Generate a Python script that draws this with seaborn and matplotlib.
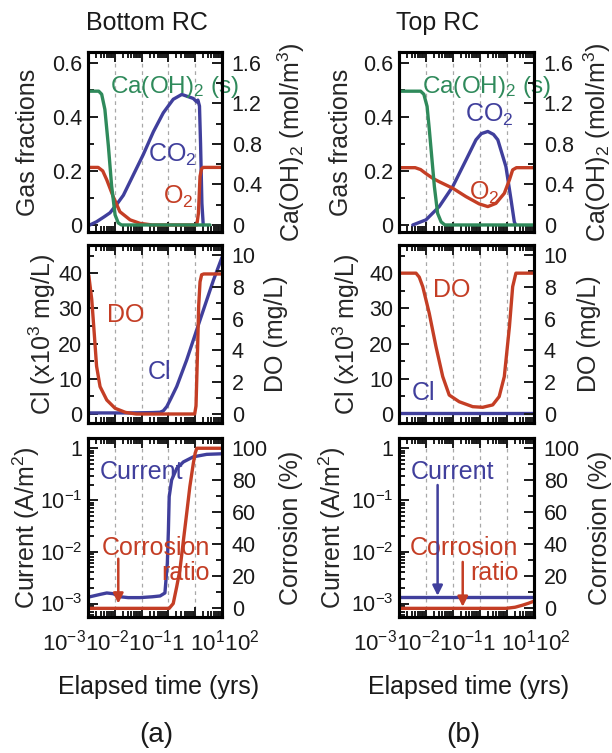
import numpy as np
import matplotlib
matplotlib.use("Agg")
import matplotlib.pyplot as plt
import matplotlib.ticker as mticker
import seaborn as sns

# ---- values; times are log10(years) ----
# (a) Bottom RC
a_caoh_t = [-3.0, -2.6, -2.49, -2.37, -2.24, -2.12, -1.99, -1.87, -1.75, 1.55]
a_caoh = [1.32, 1.32, 1.29, 1.14, 0.78, 0.39, 0.10, 0.02, 0.0, 0.0]
a_co2_t = [-2.93, -2.68, -2.4, -2.18, -1.9, -1.68, -1.31, -0.94, -0.56, -0.19,
           0.18, 0.50, 0.93, 1.06, 1.10, 1.16, 1.20, 1.25, 1.30]
a_co2 = [0.0, 0.012, 0.03, 0.045, 0.08, 0.11, 0.185, 0.26, 0.345, 0.415,
         0.465, 0.483, 0.468, 0.455, 0.462, 0.44, 0.30, 0.08, 0.0]
a_o2_t = [-3.0, -2.62, -2.45, -2.30, -2.06, -1.81, -1.43, -1.06, -0.6,
          1.06, 1.12, 1.18, 1.24, 1.30, 2.0]
a_o2 = [0.213, 0.213, 0.2, 0.167, 0.105, 0.049, 0.019, 0.006, 0.0,
        0.0, 0.043, 0.18, 0.208, 0.213, 0.213]

a_do_t = [-2.97, -2.86, -2.76, -2.68, -2.55, -2.30, -1.99, -1.6, -1.2,
          0.98, 1.03, 1.08, 1.13, 1.18, 1.24, 1.32, 2.0]
a_do = [8.7, 7.2, 4.9, 3.0, 1.72, 0.88, 0.36, 0.1, 0.0,
        0.0, 0.5, 3.5, 6.8, 8.3, 8.75, 8.8, 8.8]
a_cl_t = [-3.0, -1.5, -0.6, -0.31, -0.19, -0.06, 0.1, 0.31, 0.68, 1.18, 1.68, 2.0]
a_cl = [0.3, 0.3, 0.4, 0.5, 0.9, 2.1, 4.5, 7.8, 15.3, 26.7, 38.0, 44.5]

a_cur_t = [-2.93, -2.55, -2.3, -2.06, -1.8, -1.5, -1.06, -0.6, -0.31, -0.13,
           -0.04, 0.0, 0.03, 0.12, 0.31, 0.56, 0.93, 1.43, 2.0]
a_cur = [1.35e-3, 1.5e-3, 1.6e-3, 1.55e-3, 1.35e-3, 1.3e-3, 1.3e-3, 1.35e-3, 1.4e-3, 1.6e-3,
         6e-3, 0.026, 0.117, 0.245, 0.41, 0.55, 0.69, 0.77, 0.79]
a_corr_t = [-3.0, 0.03, 0.18, 0.31, 0.43, 0.55, 0.68, 0.80, 0.93, 1.0, 1.06, 2.0]
a_corr = [0, 0, 3, 13.5, 24, 41, 59, 76, 90.6, 97, 100, 100]

# (b) Top RC
b_caoh_t = [-3.0, -2.2, -2.08, -1.96, -1.88, -1.81, -1.69, -1.57, -1.44, -1.3, 2.0]
b_caoh = [1.32, 1.32, 1.29, 1.17, 0.95, 0.74, 0.38, 0.115, 0.03, 0.0, 0.0]
b_co2_t = [-2.49, -2.0, -1.51, -1.01, -0.52, -0.15, 0.05, 0.29, 0.5, 0.66,
           0.96, 1.15, 1.27, 1.32]
b_co2 = [0.0, 0.019, 0.068, 0.142, 0.24, 0.315, 0.338, 0.346, 0.335, 0.315,
         0.216, 0.093, 0.012, 0.0]
b_o2_t = [-3.0, -2.4, -2.2, -2.0, -1.74, -1.51, -1.01, -0.52, -0.03, 0.29,
          0.59, 0.9, 1.09, 1.21, 1.35, 2.0]
b_o2 = [0.212, 0.212, 0.205, 0.19, 0.172, 0.16, 0.136, 0.105, 0.078, 0.068,
        0.08, 0.117, 0.167, 0.204, 0.212, 0.212]

b_do_t = [-3.0, -2.37, -2.25, -2.12, -1.88, -1.63, -1.38, -1.14, -0.77, -0.27,
          0.10, 0.47, 0.71, 0.90, 1.09, 1.21, 1.33, 2.0]
b_do = [8.85, 8.85, 8.6, 8.0, 6.33, 4.23, 2.35, 1.19, 0.77, 0.46,
        0.42, 0.57, 1.09, 2.35, 5.49, 8.0, 8.85, 8.85]
b_cl_t = [-3.0, 2.0]
b_cl = [0.2, 0.2]

b_cur_t = [-3.0, 2.0]
b_cur = [1.35e-3, 1.35e-3]
b_corr_t = [-3.0, 0.96, 1.3, 1.58, 1.8, 2.0]
b_corr = [0, 0, 0.7, 2, 3.2, 4.5]

GREEN = "#2f8a5b"
BLUE = "#403f9c"
RED = "#c43e25"

W, H = 612, 753
FS = 18
TICK_FS = 15.5

sns.set_theme(style="ticks")
plt.rcParams["font.family"] = ["Liberation Sans", "DejaVu Sans"]
plt.rcParams["mathtext.fontset"] = "custom"
plt.rcParams["mathtext.rm"] = "Liberation Sans"
plt.rcParams["mathtext.it"] = "Liberation Sans:italic"
plt.rcParams["mathtext.default"] = "regular"
plt.rcParams["text.color"] = "#1a1a1a"


def curve(ax, logt, vals, color):
    sns.lineplot(x=10 ** np.asarray(logt), y=vals, ax=ax, color=color, lw=2.4,
                 sort=False, estimator=None)


def style(ax, ax2):
    ax.set_xscale("log")
    ax.set_xlim(1e-3, 1e2)
    ax.xaxis.set_major_locator(mticker.LogLocator(base=10, numticks=20))
    ax.xaxis.set_minor_locator(mticker.LogLocator(base=10, subs=np.arange(2, 10), numticks=20))
    for d in [1e-2, 1e-1, 1, 1e1]:
        ax.axvline(d, color="#a8a8a8", lw=0.9, ls=(0, (3, 3)), zorder=0)
    ax.tick_params(axis="both", which="both", direction="in", top=True, bottom=True,
                   right=False, labelbottom=False, labelsize=TICK_FS, width=1.4,
                   colors="#1a1a1a")
    ax.tick_params(which="major", length=7)
    ax.tick_params(which="minor", length=4)
    ax.tick_params(axis="y", pad=4)
    ax2.tick_params(axis="x", which="both", bottom=False, top=False,
                    labelbottom=False, labeltop=False)
    ax2.tick_params(axis="y", which="both", direction="in", right=True,
                    labelsize=TICK_FS, width=1.4, pad=7, colors="#1a1a1a")
    ax2.tick_params(axis="y", which="major", length=7)
    ax2.tick_params(axis="y", which="minor", length=4)
    ax.set_xlabel("")
    ax2.set_xlabel("")
    for a in (ax, ax2):
        for s in a.spines.values():
            s.set_linewidth(2.2)
            s.set_color("black")


def gas_panel(rect, caoh_t, caoh, co2_t, co2, o2_t, o2, lab, co2_pos, o2_pos, caoh_pos):
    ax = fig.add_axes(rect)
    ax2 = ax.twinx()
    style(ax, ax2)
    curve(ax, co2_t, co2, BLUE)
    curve(ax, o2_t, o2, RED)
    curve(ax2, caoh_t, caoh, GREEN)
    ax.set_ylim(-0.026, 0.64)
    ax2.set_ylim(-0.026 * 1.6 / 0.6, 0.64 * 1.6 / 0.6)
    ax.set_yticks([0, 0.2, 0.4, 0.6], ["0", "0.2", "0.4", "0.6"])
    ax.yaxis.set_minor_locator(mticker.MultipleLocator(0.1))
    ax2.set_yticks([0, 0.4, 0.8, 1.2, 1.6], ["0", "0.4", "0.8", "1.2", "1.6"])
    ax2.yaxis.set_minor_locator(mticker.MultipleLocator(0.2))
    ax.set_ylabel("Gas fractions", fontsize=FS, va="center")
    ax2.set_ylabel(r"Ca(OH)$_2$ (mol/m$^3$)", fontsize=FS, va="center")
    ax.yaxis.set_label_coords(lab[0], 0.5)
    ax2.yaxis.set_label_coords(lab[1], 0.5)
    ax.text(*caoh_pos, r"Ca(OH)$_2$ (s)", color=GREEN, fontsize=17.5, ha="center",
            va="center", transform=ax.transAxes, clip_on=False, zorder=5)
    ax.text(*co2_pos, r"CO$_2$", color=BLUE, fontsize=FS, ha="center", va="center",
            transform=ax.transAxes)
    ax.text(*o2_pos, r"O$_2$", color=RED, fontsize=FS, ha="center", va="center",
            transform=ax.transAxes)
    return ax


def water_panel(rect, do_t, do, cl_t, cl, lab, do_pos, cl_pos):
    ax = fig.add_axes(rect)
    ax2 = ax.twinx()
    style(ax, ax2)
    curve(ax, cl_t, cl, BLUE)
    curve(ax2, do_t, do, RED)
    ax.set_ylim(-2.56, 48.0)
    ax2.set_ylim(-0.566, 10.62)
    ax.set_yticks([0, 10, 20, 30, 40])
    ax.yaxis.set_minor_locator(mticker.MultipleLocator(5))
    ax2.set_yticks([0, 2, 4, 6, 8, 10])
    ax2.yaxis.set_minor_locator(mticker.MultipleLocator(1))
    ax.set_ylabel(r"Cl (x10$^3$ mg/L)", fontsize=FS, va="center")
    ax2.set_ylabel("DO (mg/L)", fontsize=FS, va="center")
    ax.yaxis.set_label_coords(lab[0], 0.5)
    ax2.yaxis.set_label_coords(lab[1], 0.5)
    ax.text(*do_pos, "DO", color=RED, fontsize=FS, ha="center", va="center",
            transform=ax.transAxes)
    ax.text(*cl_pos, "Cl", color=BLUE, fontsize=FS, ha="center", va="center",
            transform=ax.transAxes)
    return ax


def corrosion_panel(rect, cur_t, cur, corr_t, corr, lab, cur_pos, corr_pos, ratio_pos):
    ax = fig.add_axes(rect)
    ax2 = ax.twinx()
    ax.set_yscale("log")
    style(ax, ax2)
    curve(ax, cur_t, cur, BLUE)
    curve(ax2, corr_t, corr, RED)
    ax.set_ylim(10 ** -3.261, 10 ** 0.203)
    ax2.set_ylim(-5.4, 106.4)
    ax.set_yticks([1e-3, 1e-2, 1e-1, 1], [r"$10^{-3}$", r"$10^{-2}$", r"$10^{-1}$", "1"])
    ax.yaxis.set_minor_locator(mticker.LogLocator(base=10, subs=np.arange(2, 10), numticks=20))
    ax.yaxis.set_minor_formatter(mticker.NullFormatter())
    ax2.set_yticks([0, 20, 40, 60, 80, 100])
    ax2.yaxis.set_minor_locator(mticker.MultipleLocator(10))
    ax.set_ylabel(r"Current (A/m$^2$)", fontsize=FS, va="center")
    ax2.set_ylabel("Corrosion (%)", fontsize=FS, va="center")
    ax.yaxis.set_label_coords(lab[0], 0.5)
    ax2.yaxis.set_label_coords(lab[1], 0.5)
    ax.text(*cur_pos, "Current", color=BLUE, fontsize=FS, ha="center", va="center",
            transform=ax.transAxes)
    ax.text(*corr_pos, "Corrosion", color=RED, fontsize=FS, ha="center", va="center",
            transform=ax.transAxes, clip_on=False)
    ax.text(*ratio_pos, "ratio", color=RED, fontsize=FS, ha="center", va="center",
            transform=ax.transAxes, clip_on=False)
    return ax, ax2


def arrow(ax, x, y0, y1, color):
    ax.annotate("", xy=(x, y1), xytext=(x, y0),
                arrowprops=dict(arrowstyle="-|>", color=color, lw=1.8,
                                mutation_scale=15, shrinkA=0, shrinkB=0))


fig = plt.figure(figsize=(W / 100, H / 100), dpi=100)


def rect(x0, y0, x1, y1):
    return [x0 / W, 1 - y1 / H, (x1 - x0) / W, (y1 - y0) / H]


LEFT = (88, 222)
RIGHT = (399, 534)
ROWS = [(52, 232), (245, 423), (438, 617)]

# (a) Bottom RC
gas_panel(rect(LEFT[0], ROWS[0][0], LEFT[1], ROWS[0][1]),
          a_caoh_t, a_caoh, a_co2_t, a_co2, a_o2_t, a_o2,
          (-0.448, 1.515), (0.627, 0.428), (0.672, 0.194), (0.649, 0.808))
water_panel(rect(LEFT[0], ROWS[1][0], LEFT[1], ROWS[1][1]),
            a_do_t, a_do, a_cl_t, a_cl, (-0.343, 1.403), (0.284, 0.607), (0.530, 0.287))
ax, ax2 = corrosion_panel(rect(LEFT[0], ROWS[2][0], LEFT[1], ROWS[2][1]),
                          a_cur_t, a_cur, a_corr_t, a_corr, (-0.463, 1.515),
                          (0.396, 0.810), (0.507, 0.385), (0.731, 0.246))
arrow(ax2, 10 ** -1.87, 31, 3, RED)

# (b) Top RC
gas_panel(rect(RIGHT[0], ROWS[0][0], RIGHT[1], ROWS[0][1]),
          b_caoh_t, b_caoh, b_co2_t, b_co2, b_o2_t, b_o2,
          (-0.430, 1.467), (0.667, 0.65), (0.630, 0.217), (0.652, 0.808))
water_panel(rect(RIGHT[0], ROWS[1][0], RIGHT[1], ROWS[1][1]),
            b_do_t, b_do, b_cl_t, b_cl, (-0.393, 1.407), (0.393, 0.747), (0.178, 0.169))
ax, ax2 = corrosion_panel(rect(RIGHT[0], ROWS[2][0], RIGHT[1], ROWS[2][1]),
                          b_cur_t, b_cur, b_corr_t, b_corr, (-0.496, 1.489),
                          (0.400, 0.810), (0.481, 0.385), (0.711, 0.246))
arrow(ax, 10 ** -1.57, 10 ** -0.707, 10 ** -2.85, BLUE)
arrow(ax2, 10 ** -0.64, 29, 1, RED)

# column headers, shared x tick labels, axis titles, panel letters
xticks = r"$10^{-3}10^{-2}10^{-1}1\ 10^{1}10^{2}$"
for cx_title, title, cx_ticks, cx_lab, cx_let, letter in [
        (147, "Bottom RC", 151, 159, 156, "(a)"),
        (438, "Top RC", 462, 469, 463, "(b)")]:
    fig.text(cx_title / W, 1 - 23 / H, title, fontsize=FS, ha="center", va="center")
    fig.text(cx_ticks / W, 1 - 643 / H, xticks, fontsize=16, ha="center", va="center")
    fig.text(cx_lab / W, 1 - 687 / H, "Elapsed time (yrs)", fontsize=FS,
             ha="center", va="center")
    fig.text(cx_let / W, 1 - 735 / H, letter, fontsize=20, ha="center", va="center")

fig.savefig("out.png", dpi=100)
